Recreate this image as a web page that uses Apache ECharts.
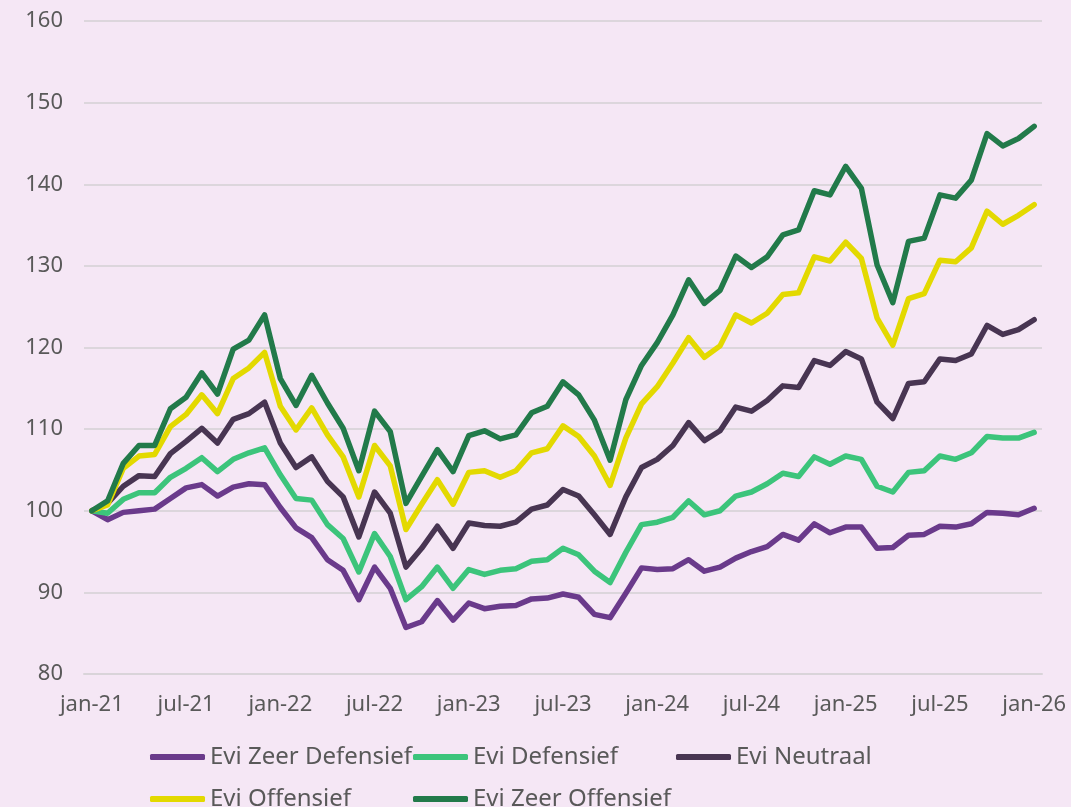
<!DOCTYPE html>
<html>
<head>
<meta charset="utf-8">
<script src="https://cdn.jsdelivr.net/npm/echarts@6/dist/echarts.min.js"></script>
<style>
  html, body { margin: 0; padding: 0; background: #f5e7f5; }
  #chart { width: 1071px; height: 807px; }
</style>
</head>
<body>
<div id="chart"></div>
<script>
const monthNames = ['jan', 'feb', 'mrt', 'apr', 'mei', 'jun', 'jul', 'aug', 'sep', 'okt', 'nov', 'dec']
const months = []
for (let y = 21; y <= 26; y++) {
  for (let m = 0; m < 12; m++) {
    if (y === 26 && m > 0) break
    months.push(monthNames[m] + '-' + y)
  }
}

const zeerDefensief = [100, 98.9, 99.8, 100.0, 100.2, 101.5, 102.8, 103.2, 101.8, 102.9, 103.3, 103.2,
  100.4, 97.9, 96.7, 94.0, 92.7, 89.1, 93.1, 90.5, 85.7, 86.4, 89.0, 86.6, 88.7,
  88.0, 88.3, 88.4, 89.2, 89.3, 89.8, 89.4, 87.3, 86.9, 89.9, 93.0, 92.8,
  92.9, 94.0, 92.6, 93.1, 94.2, 95.0, 95.6, 97.1, 96.4, 98.4, 97.3,
  98.0, 98.0, 95.4, 95.5, 97.0, 97.1, 98.1, 98.0, 98.4, 99.8, 99.7, 99.5, 100.3]

const defensief = [100, 99.7, 101.4, 102.2, 102.2, 104.1, 105.2, 106.5, 104.8, 106.3, 107.1, 107.7,
  104.4, 101.5, 101.3, 98.3, 96.6, 92.5, 97.2, 94.4, 89.1, 90.7, 93.1, 90.5, 92.8,
  92.2, 92.7, 92.9, 93.8, 94.0, 95.4, 94.6, 92.6, 91.2, 94.9, 98.3, 98.6,
  99.2, 101.2, 99.5, 100.0, 101.8, 102.3, 103.3, 104.6, 104.2, 106.6, 105.7,
  106.7, 106.3, 103.0, 102.3, 104.7, 104.9, 106.7, 106.3, 107.1, 109.1, 108.9, 108.9, 109.6]

const neutraal = [100, 100.9, 103.0, 104.3, 104.2, 107.0, 108.5, 110.1, 108.3, 111.2, 111.9, 113.3,
  108.3, 105.3, 106.6, 103.6, 101.7, 96.8, 102.3, 99.7, 93.1, 95.4, 98.1, 95.4, 98.5,
  98.2, 98.1, 98.6, 100.2, 100.7, 102.6, 101.8, 99.5, 97.1, 101.7, 105.3, 106.3,
  108.0, 110.8, 108.6, 109.8, 112.7, 112.2, 113.5, 115.3, 115.1, 118.4, 117.8,
  119.5, 118.6, 113.3, 111.3, 115.6, 115.8, 118.6, 118.4, 119.2, 122.7, 121.6, 122.2, 123.4]

const offensief = [100, 100.7, 105.2, 106.7, 106.9, 110.3, 111.8, 114.2, 111.9, 116.2, 117.5, 119.4,
  112.8, 109.9, 112.6, 109.3, 106.6, 101.7, 108.0, 105.5, 97.7, 100.8, 103.8, 100.8, 104.7,
  104.9, 104.1, 104.9, 107.1, 107.6, 110.4, 109.1, 106.7, 103.1, 108.9, 113.1, 115.2,
  118.1, 121.2, 118.8, 120.2, 124.0, 123.0, 124.2, 126.5, 126.7, 131.1, 130.6,
  132.9, 130.9, 123.6, 120.3, 126.0, 126.6, 130.7, 130.5, 132.2, 136.7, 135.1, 136.2, 137.5]

const zeerOffensief = [100, 101.2, 105.8, 108.0, 108.0, 112.5, 113.9, 116.9, 114.3, 119.8, 120.9, 124.0,
  116.2, 112.9, 116.6, 113.2, 110.1, 104.9, 112.2, 109.7, 100.9, 104.2, 107.5, 104.8, 109.2,
  109.8, 108.8, 109.3, 112.0, 112.8, 115.8, 114.2, 111.1, 106.2, 113.6, 117.8, 120.6,
  124.0, 128.3, 125.4, 127.0, 131.2, 129.8, 131.1, 133.8, 134.4, 139.2, 138.7,
  142.2, 139.5, 130.1, 125.5, 133.0, 133.4, 138.7, 138.3, 140.5, 146.2, 144.7, 145.6, 147.1]

const names = ['Evi Zeer Defensief', 'Evi Defensief', 'Evi Neutraal', 'Evi Offensief', 'Evi Zeer Offensief']
const colors = ['#6a3a8b', '#3cc47b', '#483552', '#e3d900', '#227a4a']
const values = [zeerDefensief, defensief, neutraal, offensief, zeerOffensief]

const chart = echarts.init(document.getElementById('chart'))
chart.setOption({
  backgroundColor: '#f5e7f5',
  animation: false,
  textStyle: { fontFamily: 'Noto Sans' },
  grid: { left: 84, right: 29, top: 21, bottom: 133 },
  legend: {
    left: 145,
    top: 731,
    width: 800,
    itemGap: 0,
    itemWidth: 55,
    itemHeight: 6,
    icon: 'roundRect',
    data: names,
    textStyle: { color: '#595959', fontSize: 24, width: 203, lineHeight: 42 }
  },
  xAxis: {
    type: 'category',
    data: months,
    boundaryGap: true,
    axisLine: { lineStyle: { color: '#d9d4d9', width: 2 } },
    axisTick: { interval: 5, length: 7, lineStyle: { color: '#d9d4d9', width: 2 } },
    axisLabel: { interval: 5, color: '#595959', fontSize: 22, margin: 20 }
  },
  yAxis: {
    type: 'value',
    min: 80,
    max: 160,
    interval: 10,
    axisLine: { show: false },
    axisTick: { show: false },
    axisLabel: { color: '#595959', fontSize: 22, margin: 21 },
    splitLine: { lineStyle: { color: '#dcd6dc', width: 2 } }
  },
  series: names.map((name, i) => ({
    name: name,
    type: 'line',
    data: values[i],
    symbol: 'none',
    itemStyle: { color: colors[i] },
    lineStyle: { color: colors[i], width: 5.5, cap: 'round', join: 'round' }
  }))
})
</script>
</body>
</html>
